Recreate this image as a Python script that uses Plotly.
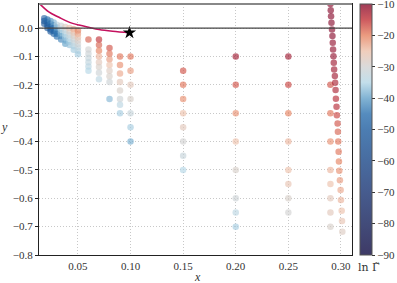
import plotly.graph_objects as go

# ---- data ----
x_dense = [0.018, 0.018, 0.018,
           0.021, 0.021, 0.021, 0.021,
           0.024, 0.024, 0.024, 0.024, 0.024,
           0.027, 0.027, 0.027, 0.027, 0.027,
           0.030, 0.030, 0.030, 0.030, 0.030,
           0.034, 0.034, 0.034, 0.034, 0.034,
           0.038, 0.038, 0.038, 0.038, 0.038, 0.038,
           0.042, 0.042, 0.042, 0.042, 0.042, 0.042,
           0.046, 0.046, 0.046, 0.046, 0.046, 0.046, 0.046,
           0.050, 0.050, 0.050, 0.050, 0.050, 0.050, 0.050, 0.050]
y_dense = [0.035, 0.025, 0.015,
           0.030, 0.020, 0.010, 0.000,
           0.025, 0.015, 0.005, -0.005, -0.012,
           0.020, 0.010, 0.000, -0.010, -0.020,
           0.012, 0.002, -0.010, -0.020, -0.030,
           0.008, -0.004, -0.016, -0.028, -0.040,
           0.004, -0.008, -0.020, -0.032, -0.044, -0.055,
           0.000, -0.012, -0.024, -0.036, -0.048, -0.060,
           -0.004, -0.016, -0.028, -0.040, -0.052, -0.064, -0.076,
           -0.008, -0.020, -0.032, -0.044, -0.056, -0.068, -0.080, -0.092]
c_dense = [-48, -50, -52,
           -45, -48, -50, -52,
           -42, -45, -48, -50, -50,
           -38, -42, -46, -48, -48,
           -34, -38, -42, -45, -45,
           -31, -34, -37, -40, -43,
           -28, -31, -34, -36, -38, -40,
           -25, -28, -31, -33, -35, -37,
           -22, -25, -28, -30, -32, -34, -36,
           -20, -22, -25, -28, -30, -32, -34, -36]

x_mid = [0.06] * 7 + [0.07] * 8 + [0.08] * 8 + [0.09] * 8 + [0.10] * 7
y_mid = [-0.04, -0.075, -0.09, -0.105, -0.12, -0.135, -0.15,
         -0.04, -0.06, -0.08, -0.10, -0.12, -0.137, -0.157, -0.18,
         -0.07, -0.09, -0.11, -0.13, -0.15, -0.17, -0.19, -0.25,
         -0.10, -0.13, -0.16, -0.19, -0.22, -0.25, -0.27, -0.30,
         -0.10, -0.15, -0.20, -0.25, -0.30, -0.35, -0.40]
c_mid = [-18, -30, -31, -32, -33, -34, -35,
         -15, -18, -20, -24, -27, -29, -31, -34,
         -17, -19, -22, -25, -28, -29, -31, -38,
         -19, -21, -23, -27, -29, -31, -34, -36,
         -19, -22, -27, -29, -32, -36, -39]

x_far = [0.15] * 8 + [0.20] * 8 + [0.25] * 8 + [0.29] * 8
y_far = [-0.15, -0.20, -0.25, -0.30, -0.35, -0.40, -0.45, -0.50,
         -0.10, -0.20, -0.30, -0.40, -0.50, -0.60, -0.65, -0.70,
         -0.10, -0.20, -0.30, -0.40, -0.50, -0.55, -0.60, -0.65,
         -0.20, -0.30, -0.40, -0.50, -0.55, -0.60, -0.65, -0.70]
c_far = [-17, -19, -21, -25, -27, -30, -32, -35,
         -12, -17, -21, -25, -29, -31, -34, -36,
         -12, -16, -20, -24, -25, -26, -29, -30,
         -17, -19, -21, -24, -25, -27, -27, -29]

x_edge = [0.2900, 0.2903, 0.2906, 0.2910, 0.2915, 0.2919, 0.2922, 0.2925,
          0.2929, 0.2932, 0.2935, 0.2942, 0.2945, 0.2949, 0.2952, 0.2958,
          0.2961, 0.2968, 0.2971, 0.2974, 0.2978, 0.2981, 0.2984, 0.2990,
          0.2997, 0.3000, 0.3007, 0.3010, 0.3013]
y_edge = [0.085, 0.063, 0.042, 0.019, -0.005, -0.028, -0.052, -0.075,
          -0.099, -0.122, -0.146, -0.169, -0.193, -0.218, -0.249, -0.277,
          -0.307, -0.336, -0.365, -0.400, -0.436, -0.470, -0.503, -0.536,
          -0.571, -0.606, -0.644, -0.680, -0.718]
c_edge = [-10, -10, -10, -10, -10, -10, -11, -11,
          -11, -12, -12, -12, -13, -13, -14, -14,
          -16, -17, -18, -19, -19, -20, -21, -22,
          -23, -24, -25, -26, -28]

curve_x = [0.0125, 0.0223, 0.032, 0.041, 0.051, 0.061, 0.070, 0.083, 0.099]
curve_y = [0.090, 0.057, 0.038, 0.022, 0.0106, 0.002, -0.005, -0.011, -0.016]
star_x = [0.099]
star_y = [-0.016]

x_ticks = [0.05, 0.10, 0.15, 0.20, 0.25, 0.30]
y_ticks = [0.0, -0.1, -0.2, -0.3, -0.4, -0.5, -0.6, -0.7, -0.8]
cb_ticks = [-10, -20, -30, -40, -50, -60, -70, -80, -90]

# ---- style ----
cscale = [
    [0.0, "rgba(14,9,64,0.8)"],
    [0.125, "rgba(19,31,89,0.8)"],
    [0.25, "rgba(24,51,114,0.8)"],
    [0.375, "rgba(26,71,136,0.8)"],
    [0.5, "rgba(31,93,159,0.8)"],
    [0.5625, "rgba(43,111,174,0.8)"],
    [0.625, "rgba(99,161,201,0.8)"],
    [0.6875, "rgba(180,214,230,0.8)"],
    [0.75, "rgba(209,209,209,0.8)"],
    [0.8125, "rgba(236,193,171,0.8)"],
    [0.875, "rgba(230,130,96,0.8)"],
    [0.9375, "rgba(193,49,55,0.8)"],
    [1.0, "rgba(136,11,46,0.8)"],
]

FONT = "Liberation Serif"
TXT = "#333333"

xs = x_dense + x_mid + x_far + x_edge
ys = y_dense + y_mid + y_far + y_edge
cs = c_dense + c_mid + c_far + c_edge

fig = go.Figure()
fig.add_trace(go.Scatter(
    x=xs, y=ys, mode="markers",
    marker=dict(size=6.5, color=cs, colorscale=cscale, cmin=-90, cmax=-10,
                opacity=0.8, line=dict(width=0),
                colorbar=dict(
                    x=1.026, xanchor="left", xref="paper",
                    y=1.0, yanchor="top", len=251, lenmode="pixels",
                    thickness=12, outlinewidth=1, outlinecolor="#555555",
                    xpad=0, ypad=0,
                    tickvals=cb_ticks, ticks="outside", ticklen=3,
                    tickcolor="#333333", ticklabeloverflow="allow",
                    tickfont=dict(family=FONT, size=11, color=TXT),
                )),
    cliponaxis=True, showlegend=False, hoverinfo="skip"))

fig.add_trace(go.Scatter(
    x=curve_x, y=curve_y, mode="lines", line=dict(color="#c4115e", width=1.6, shape="spline"),
    showlegend=False, hoverinfo="skip"))
fig.add_trace(go.Scatter(
    x=star_x, y=star_y, mode="markers",
    marker=dict(symbol="star", size=10, color="black"),
    showlegend=False, hoverinfo="skip"))

# horizontal reference line at y=0
fig.add_shape(type="line", xref="paper", x0=0, x1=1, yref="y", y0=0, y1=0,
              line=dict(color="#444444", width=1.3), layer="above")
# top border (grey)
fig.add_shape(type="line", xref="paper", x0=0, x1=1, yref="paper", y0=1, y1=1,
              line=dict(color="#888888", width=2), layer="above")

axis_common = dict(
    showgrid=True, gridcolor="#c8c8c8", griddash="1px,2px", gridwidth=0.8,
    zeroline=False, showline=True, linecolor="#222222", linewidth=1,
    tickfont=dict(family=FONT, size=11, color=TXT),
    automargin=False,
)

fig.update_layout(
    width=397, height=283,
    margin=dict(l=39, r=45, t=4, b=28, autoexpand=False),
    paper_bgcolor="white", plot_bgcolor="white",
    xaxis=dict(range=[0.013, 0.3105], tickvals=x_ticks, tickformat=".2f",
               mirror=True, ticks="", ticklabelstandoff=1,
               **axis_common),
    yaxis=dict(range=[-0.8, 0.085], tickvals=y_ticks, tickformat=".1f",
               mirror=True, ticks="outside", ticklen=3, tickcolor="#222222",
               **axis_common),
    annotations=[
        dict(text="<i>x</i>", xref="paper", yref="paper",
             x=0.505, y=-0.088, xanchor="center", yanchor="middle",
             showarrow=False, font=dict(family=FONT, size=12, color=TXT)),
        dict(text="<i>y</i>", xref="paper", yref="paper",
             x=-0.11, y=0.51, xanchor="center", yanchor="middle",
             showarrow=False, font=dict(family=FONT, size=12, color=TXT)),
        dict(text="ln Γ̃", xref="paper", yref="paper",
             x=1.054, y=-0.05, xanchor="center", yanchor="middle",
             showarrow=False, font=dict(family="DejaVu Serif", size=11, color=TXT)),
    ],
)

fig.write_html("out.html", config={"displayModeBar": False},
               post_script="document.body.style.margin='0px';")
